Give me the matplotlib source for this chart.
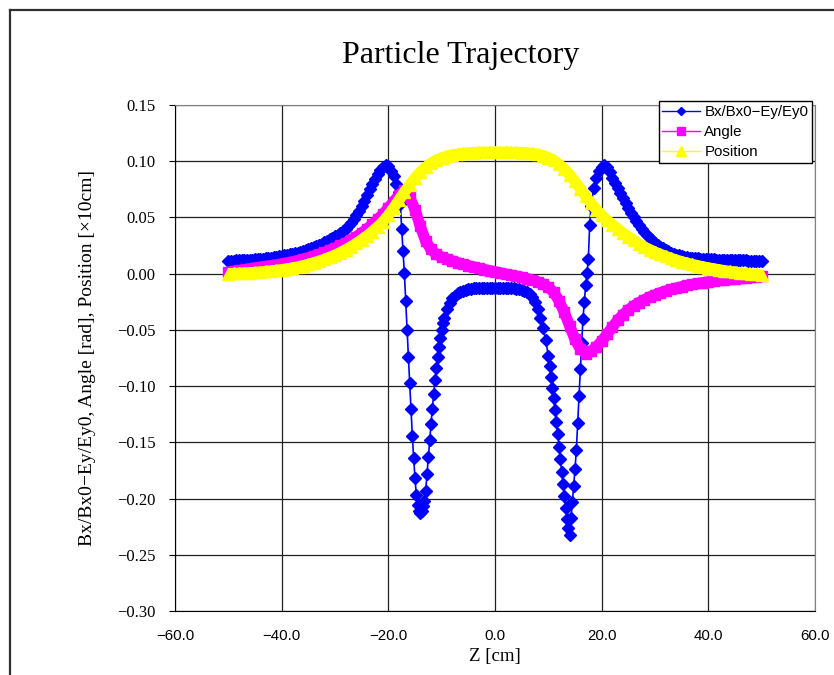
import numpy as np
from matplotlib import pyplot as plt
from matplotlib.lines import Line2D
from matplotlib.ticker import FuncFormatter, MultipleLocator

# z positions [cm] for angle / position series
z = list(range(-50, 51))

position = [
    0.0000, 0.0002, 0.0004, 0.0006, 0.0009, 0.0012, 0.0016, 0.0020, 0.0025, 0.0030,
    0.0036, 0.0043, 0.0051, 0.0060, 0.0071, 0.0083, 0.0097, 0.0112, 0.0128, 0.0146,
    0.0166, 0.0188, 0.0213, 0.0240, 0.0270, 0.0302, 0.0337, 0.0375, 0.0416, 0.0463,
    0.0520, 0.0585, 0.0655, 0.0725, 0.0790, 0.0850, 0.0903, 0.0947, 0.0983, 0.1010,
    0.1030, 0.1045, 0.1056, 0.1064, 0.1070, 0.1074, 0.1077, 0.1079, 0.1080, 0.1081,
    0.1081, 0.1081, 0.1081, 0.1080, 0.1079, 0.1077, 0.1074, 0.1069, 0.1062, 0.1050,
    0.1032, 0.1007, 0.0973, 0.0930, 0.0878, 0.0820, 0.0756, 0.0690, 0.0627, 0.0570,
    0.0520, 0.0476, 0.0436, 0.0399, 0.0362, 0.0328, 0.0296, 0.0265, 0.0238, 0.0214,
    0.0192, 0.0172, 0.0154, 0.0137, 0.0121, 0.0107, 0.0094, 0.0082, 0.0071, 0.0061,
    0.0052, 0.0043, 0.0035, 0.0027, 0.0020, 0.0013, 0.0007, 0.0002, -0.0003, -0.0007,
    -0.0010,
]

angle = [
    0.0015, 0.0022, 0.0030, 0.0037, 0.0044, 0.0051, 0.0058, 0.0065, 0.0072, 0.0079,
    0.0087, 0.0096, 0.0106, 0.0117, 0.0129, 0.0142, 0.0157, 0.0173, 0.0190, 0.0209,
    0.0229, 0.0251, 0.0275, 0.0301, 0.0330, 0.0362, 0.0398, 0.0438, 0.0482, 0.0530,
    0.0585, 0.0640, 0.0700, 0.0740, 0.0680, 0.0570, 0.0420, 0.0290, 0.0215, 0.0172,
    0.0148, 0.0130, 0.0114, 0.0099, 0.0085, 0.0072, 0.0060, 0.0048, 0.0037, 0.0027,
    0.0017, 0.0007, -0.0003, -0.0013, -0.0023, -0.0033, -0.0044, -0.0057, -0.0072, -0.0092,
    -0.0120, -0.0165, -0.0240, -0.0345, -0.0465, -0.0585, -0.0670, -0.0710, -0.0690, -0.0650,
    -0.0600, -0.0540, -0.0475, -0.0415, -0.0365, -0.0322, -0.0287, -0.0257, -0.0231, -0.0208,
    -0.0188, -0.0170, -0.0154, -0.0140, -0.0127, -0.0116, -0.0105, -0.0096, -0.0087, -0.0079,
    -0.0072, -0.0065, -0.0059, -0.0054, -0.0049, -0.0044, -0.0040, -0.0036, -0.0032, -0.0028,
    -0.0025,
]

# field ratio series: 0.5 cm steps, 0.25 cm where it changes fast
bz = np.concatenate([
    np.arange(-50, -18.4, 0.5),
    np.arange(-18, -9.7, 0.25),
    np.arange(-9.5, 9.6, 0.5),
    np.arange(10, 17.8, 0.25),
    np.arange(18, 50.1, 0.5),
])

bfield = [
    # -50 .. -18.5
    0.0115, 0.0116, 0.0117, 0.0118, 0.0119, 0.0120, 0.0121, 0.0122, 0.0124, 0.0125,
    0.0127, 0.0129, 0.0131, 0.0133, 0.0136, 0.0139, 0.0142, 0.0146, 0.0150, 0.0155,
    0.0160, 0.0164, 0.0168, 0.0172, 0.0177, 0.0182, 0.0188, 0.0194, 0.0201, 0.0208,
    0.0216, 0.0225, 0.0234, 0.0245, 0.0256, 0.0268, 0.0280, 0.0292, 0.0305, 0.0318,
    0.0332, 0.0347, 0.0363, 0.0381, 0.0400, 0.0425, 0.0452, 0.0485, 0.0520, 0.0560,
    0.0605, 0.0650, 0.0700, 0.0750, 0.0795, 0.0840, 0.0885, 0.0925, 0.0950, 0.0970,
    0.0955, 0.0915, 0.0865, 0.0800,
    # -18 .. -9.75
    0.0730, 0.0620, 0.0400, 0.0200, 0.0010, -0.0240, -0.0500, -0.0740,
    -0.0970, -0.1200, -0.1440, -0.1640, -0.1820, -0.1970, -0.2060, -0.2110,
    -0.2130, -0.2110, -0.2070, -0.2020, -0.1930, -0.1780, -0.1630, -0.1480,
    -0.1340, -0.1200, -0.1070, -0.0950, -0.0840, -0.0740, -0.0650, -0.0570,
    -0.0500, -0.0440,
    # -9.5 .. 9.5
    -0.0390, -0.0315, -0.0260, -0.0220, -0.0195, -0.0175, -0.0161, -0.0150, -0.0143, -0.0138,
    -0.0134, -0.0131, -0.0129, -0.0127, -0.0126, -0.0125, -0.0124, -0.0124, -0.0124, -0.0124,
    -0.0124, -0.0124, -0.0125, -0.0125, -0.0126, -0.0128, -0.0130, -0.0133, -0.0137, -0.0143,
    -0.0152, -0.0165, -0.0185, -0.0210, -0.0250, -0.0310, -0.0390, -0.0480, -0.0590,
    # 10 .. 17.75
    -0.0730, -0.0820, -0.0920, -0.1020, -0.1110, -0.1210, -0.1320, -0.1430,
    -0.1540, -0.1650, -0.1760, -0.1870, -0.1980, -0.2080, -0.2180, -0.2260,
    -0.2320, -0.2170, -0.2030, -0.1890, -0.1740, -0.1570, -0.1330, -0.1090,
    -0.0850, -0.0620, -0.0400, -0.0250, -0.0100, 0.0010, 0.0130, 0.0430,
    # 18 .. 50
    0.0600, 0.0760, 0.0850, 0.0910, 0.0950, 0.0970, 0.0945, 0.0900, 0.0855, 0.0810,
    0.0760, 0.0715, 0.0670, 0.0625, 0.0580, 0.0540, 0.0500, 0.0465, 0.0430, 0.0400,
    0.0370, 0.0343, 0.0318, 0.0296, 0.0275, 0.0257, 0.0240, 0.0224, 0.0210, 0.0198,
    0.0188, 0.0179, 0.0170, 0.0163, 0.0157, 0.0152, 0.0147, 0.0143, 0.0140, 0.0137,
    0.0135, 0.0133, 0.0131, 0.0129, 0.0128, 0.0127, 0.0126, 0.0125, 0.0124, 0.0123,
    0.0122, 0.0121, 0.0121, 0.0120, 0.0120, 0.0119, 0.0119, 0.0118, 0.0118, 0.0117,
    0.0117, 0.0116, 0.0116, 0.0115, 0.0115,
]

labels = ['Bx/Bx0\u2212Ey/Ey0', 'Angle', 'Position']
colors = ['#0000FF', '#FF00FF', '#FFFF00']

serif = 'Liberation Serif'
sans = 'Liberation Sans'

fig = plt.figure(figsize=(8.34, 6.75), dpi=100)
ax = fig.add_axes([175 / 834, 64 / 675, 640 / 834, 506 / 675])

# chart area frame (cut off at right and bottom like the original)
fig.add_artist(Line2D([10 / 834, 1], [1 - 10 / 675, 1 - 10 / 675], color='#303030', lw=1.6))
fig.add_artist(Line2D([10 / 834, 10 / 834], [0, 1 - 10 / 675], color='#303030', lw=1.6))

ax.plot(bz, bfield, color=colors[0], lw=1.2, marker='D', ms=6.5, mec=colors[0], zorder=3)
ax.plot(z, angle, color=colors[1], lw=8, marker='s', ms=7, solid_capstyle='butt', zorder=4)
ax.plot(z, position, color=colors[2], lw=8, marker='^', ms=8, solid_capstyle='butt', zorder=5)

ax.set_xlim(-60, 60)
ax.set_ylim(-0.30, 0.15)
ax.xaxis.set_major_locator(MultipleLocator(20))
ax.yaxis.set_major_locator(MultipleLocator(0.05))
ax.xaxis.set_major_formatter(FuncFormatter(lambda v, p: f'{v:.1f}'.replace('-', '\u2212')))
ax.yaxis.set_major_formatter(FuncFormatter(lambda v, p: f'{v:.2f}'.replace('-', '\u2212')))
ax.grid(True, color='#202020', lw=0.9)
ax.set_axisbelow(True)

ax.tick_params(axis='x', length=0, pad=13, labelsize=10.8)
ax.tick_params(axis='y', length=4, direction='out', pad=10, labelsize=12)
for t in ax.get_xticklabels():
    t.set_fontfamily(sans)
for t in ax.get_yticklabels():
    t.set_fontfamily(serif)

for s in ['left', 'bottom']:
    ax.spines[s].set_color('black')
for s in ['top', 'right']:
    ax.spines[s].set_color('#808080')

ax.set_xlabel('Z [cm]', fontfamily=serif, fontsize=13.5)
ax.xaxis.set_label_coords(0.5, -0.073)
ax.set_ylabel('Bx/Bx0\u2212Ey/Ey0, Angle [rad], Position [\u00d710cm]', fontfamily=serif, fontsize=14)
ax.yaxis.set_label_coords(-0.124, 0.5)

fig.text(461 / 834, 1 - 55 / 675, 'Particle Trajectory', ha='center', va='center',
         fontfamily=serif, fontsize=23)

handles = [
    Line2D([], [], color=colors[0], lw=1, marker='D', ms=4.5),
    Line2D([], [], color=colors[1], lw=1, marker='s', ms=5.5),
    Line2D([], [], color=colors[2], lw=1, marker='^', ms=6.5),
]
leg = fig.legend(handles, labels, loc='upper right', bbox_to_anchor=(812 / 834, 1 - 101 / 675),
                 frameon=True, fancybox=False, edgecolor='black', framealpha=1,
                 prop={'family': sans, 'size': 10.8}, handlelength=2.5, handletextpad=0.3,
                 borderpad=0.25, labelspacing=0.4, borderaxespad=0)
leg.get_frame().set_linewidth(1.0)

fig.savefig('out.png', dpi=100)
